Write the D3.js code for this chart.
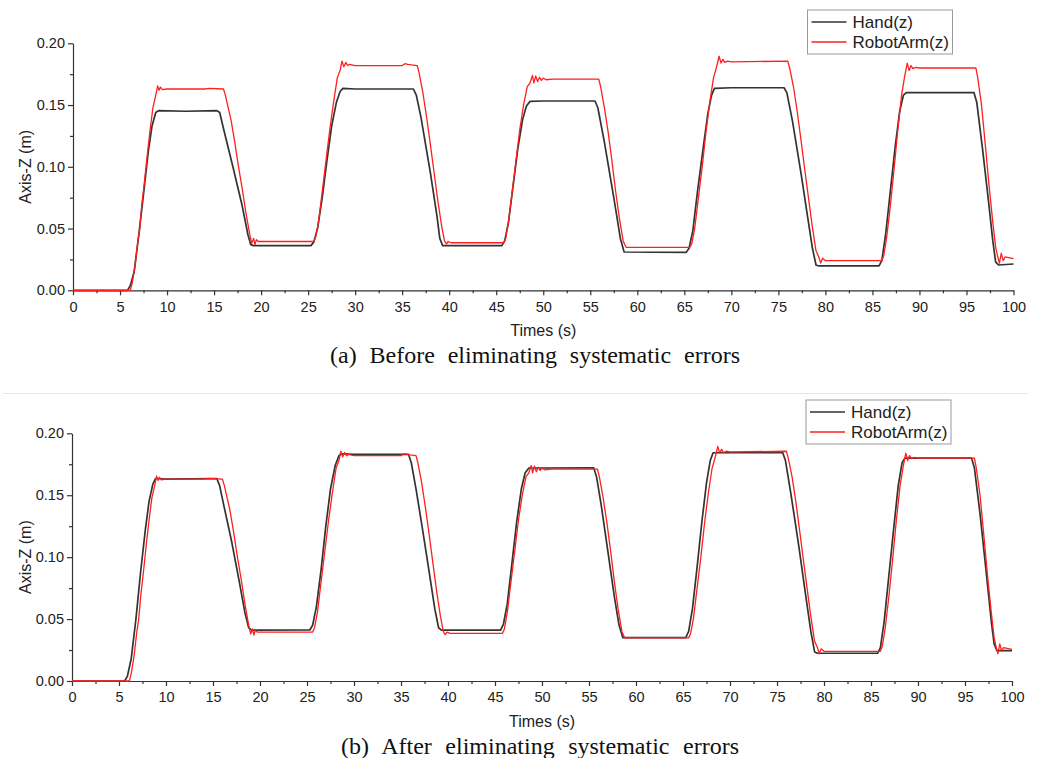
<!DOCTYPE html>
<html>
<head>
<meta charset="utf-8">
<script src="https://cdn.jsdelivr.net/npm/d3@7"></script>
<style>
  body { margin: 0; background: #fff; }
  svg { display: block; }
</style>
</head>
<body>
<div id="chart"></div>
<script>
// readings, [time (s), z (m)]
const handBefore = [
  [0,0],[5.8,0],[6.1,0.004],[6.5,0.015],[7.0,0.045],[7.5,0.078],[8.0,0.112],[8.4,0.133],[8.8,0.144],[9.1,0.1455],
  [12,0.145],[15.3,0.1455],[15.6,0.144],[16.0,0.131],[17.0,0.100],[18.0,0.068],[18.6,0.045],[18.9,0.037],[19.2,0.0362],
  [25.3,0.0362],[25.6,0.039],[26.0,0.050],[26.5,0.075],[27.0,0.105],[27.5,0.133],[28.0,0.152],[28.4,0.161],[28.7,0.1635],
  [30,0.163],[36.2,0.163],[36.5,0.158],[37.0,0.140],[38.0,0.095],[38.7,0.060],[39.0,0.042],[39.3,0.0362],
  [45.6,0.0362],[45.9,0.040],[46.3,0.055],[46.8,0.085],[47.3,0.115],[47.8,0.138],[48.2,0.149],[48.6,0.153],
  [50,0.1533],[55.5,0.1533],[55.8,0.148],[56.5,0.120],[57.5,0.075],[58.2,0.042],[58.6,0.031],
  [65.2,0.0307],[65.5,0.034],[65.9,0.048],[66.4,0.080],[67.0,0.115],[67.5,0.143],[67.9,0.158],[68.2,0.1635],
  [70,0.164],[75.6,0.164],[75.9,0.160],[76.5,0.137],[77.4,0.095],[78.0,0.065],[78.6,0.035],[79.0,0.0205],[79.3,0.0197],
  [85.7,0.0197],[86.0,0.024],[86.4,0.045],[86.9,0.080],[87.4,0.115],[87.9,0.145],[88.3,0.158],[88.6,0.160],
  [90,0.160],[95.8,0.160],[96.1,0.152],[96.7,0.115],[97.3,0.075],[97.8,0.040],[98.1,0.023],[98.4,0.0205],[100,0.0213]
];

const handAfter = [
  [0,0],[5.6,0],[5.9,0.004],[6.3,0.018],[6.8,0.050],[7.3,0.088],[7.8,0.122],[8.2,0.145],[8.6,0.159],[8.9,0.1635],
  [10,0.163],[15.4,0.1635],[15.7,0.158],[16.2,0.140],[17.0,0.112],[17.8,0.080],[18.4,0.055],[18.8,0.043],[19.1,0.041],
  [25.3,0.0412],[25.6,0.045],[26.0,0.060],[26.5,0.090],[27.0,0.125],[27.5,0.155],[28.0,0.174],[28.4,0.182],[28.7,0.1835],
  [30,0.183],[35.8,0.183],[36.1,0.176],[36.6,0.155],[37.3,0.122],[38.0,0.088],[38.6,0.058],[39.0,0.043],[39.3,0.041],
  [45.6,0.041],[45.9,0.046],[46.3,0.062],[46.8,0.095],[47.3,0.128],[47.8,0.155],[48.2,0.168],[48.6,0.172],
  [50,0.172],[55.5,0.1722],[55.8,0.165],[56.3,0.142],[57.0,0.105],[57.7,0.068],[58.2,0.045],[58.6,0.035],
  [65.3,0.035],[65.6,0.040],[66.0,0.058],[66.5,0.092],[67.0,0.128],[67.5,0.160],[67.9,0.178],[68.2,0.1843],
  [70,0.1843],[75.6,0.1845],[75.9,0.178],[76.5,0.150],[77.3,0.110],[78.0,0.072],[78.6,0.040],[79.0,0.0235],[79.3,0.0224],
  [85.7,0.0224],[86.0,0.027],[86.4,0.048],[86.9,0.085],[87.4,0.122],[87.9,0.158],[88.3,0.176],[88.6,0.180],
  [90,0.180],[95.7,0.180],[96.0,0.172],[96.6,0.135],[97.2,0.092],[97.8,0.048],[98.1,0.030],[98.4,0.0245],[100,0.0245]
];

// the robot arm record is the same in both panels
const robotArm = [
  [0,0],[6.1,0],[6.3,0.006],[6.6,0.020],[6.9,0.040],[7.1,0.050],[7.3,0.068],[7.6,0.088],[7.9,0.110],[8.2,0.130],
  [8.5,0.148],[8.8,0.158],[9.0,0.1655],[9.15,0.162],[9.3,0.1645],[9.5,0.1625],[10,0.163],[14,0.163],[14.5,0.1635],
  [16.0,0.163],[16.2,0.158],[16.5,0.148],[16.8,0.138],[17.2,0.120],[17.6,0.100],[18.0,0.082],[18.4,0.062],[18.8,0.045],
  [19.0,0.038],[19.2,0.042],[19.35,0.037],[19.5,0.041],[19.7,0.0395],[25.6,0.0395],[25.8,0.043],[26.1,0.055],
  [26.5,0.080],[26.9,0.105],[27.3,0.130],[27.7,0.152],[28.1,0.172],[28.4,0.178],[28.6,0.1855],[28.8,0.181],
  [29.0,0.1845],[29.2,0.182],[29.4,0.183],[30,0.182],[35,0.182],[35.3,0.1835],[35.6,0.183],[36.0,0.1825],[36.6,0.182],
  [36.8,0.176],[37.2,0.160],[37.6,0.140],[38.0,0.118],[38.4,0.095],[38.8,0.072],[39.2,0.052],[39.5,0.040],
  [39.7,0.0375],[39.9,0.0395],[40.2,0.0385],[45.8,0.0385],[46.0,0.042],[46.3,0.055],[46.7,0.080],[47.1,0.105],
  [47.5,0.130],[47.9,0.150],[48.3,0.165],[48.6,0.168],[48.85,0.174],[49.0,0.168],[49.2,0.1735],[49.4,0.169],
  [49.6,0.1725],[49.8,0.170],[50.0,0.1718],[50.3,0.1705],[51,0.171],[55.9,0.171],[56.1,0.165],[56.5,0.148],
  [56.9,0.128],[57.3,0.105],[57.7,0.080],[58.1,0.058],[58.5,0.040],[58.8,0.0348],[65.6,0.0348],[65.8,0.038],
  [66.1,0.050],[66.5,0.075],[66.9,0.100],[67.3,0.128],[67.7,0.152],[68.1,0.172],[68.4,0.180],[68.7,0.1895],
  [68.9,0.184],[69.1,0.187],[69.3,0.1845],[69.6,0.1855],[70,0.185],[76.0,0.1855],[76.2,0.180],[76.6,0.165],
  [77.0,0.145],[77.4,0.122],[77.8,0.098],[78.2,0.075],[78.6,0.052],[79.0,0.032],[79.3,0.027],[79.5,0.022],
  [79.7,0.026],[80.0,0.024],[86.0,0.024],[86.2,0.028],[86.5,0.042],[86.9,0.068],[87.3,0.098],[87.7,0.130],
  [88.1,0.158],[88.4,0.172],[88.7,0.184],[88.9,0.178],[89.1,0.182],[89.3,0.1795],[89.6,0.1805],[90,0.180],
  [96.0,0.180],[96.2,0.172],[96.6,0.150],[97.0,0.118],[97.4,0.085],[97.8,0.055],[98.1,0.035],[98.3,0.028],
  [98.5,0.022],[98.7,0.030],[98.9,0.024],[99.1,0.027],[100,0.0256]
];

const xTicks = [0,5,10,15,20,25,30,35,40,45,50,55,60,65,70,75,80,85,90,95,100];
const xMinorTicks = [2.5,7.5,12.5,17.5,22.5,27.5,32.5,37.5,42.5,47.5,52.5,57.5,62.5,67.5,72.5,77.5,82.5,87.5,92.5,97.5];
const yTicks = [0.00,0.05,0.10,0.15,0.20];
const yMinorTicks = [0.025,0.075,0.125,0.175];
const legendLabels = ["Hand(z)", "RobotArm(z)"];
const captions = ["(a) Before eliminating systematic errors", "(b) After eliminating systematic errors"];

const W = 1038, H = 758;
const svg = d3.select("#chart").append("svg")
  .attr("width", W)
  .attr("height", H);

// faint rule between the two figures
svg.append("line")
  .attr("x1", 3).attr("x2", 1028)
  .attr("y1", 393.5).attr("y2", 393.5)
  .style("stroke", "#e6e6e6")
  .style("stroke-width", 1.2);

const drawPanel = (p) => {
  const x = d3.scaleLinear().domain([0, 100]).range([p.left, p.right]);
  const y = d3.scaleLinear().domain([0, 0.2]).range([p.bottom, p.top]);
  const g = svg.append("g");

  // minor ticks
  g.append("g")
    .attr("transform", `translate(0,${p.bottom})`)
    .call(d3.axisBottom(x).tickValues(xMinorTicks).tickSize(3).tickFormat(""))
    .call(a => a.select(".domain").remove());
  g.append("g")
    .attr("transform", `translate(${p.left},0)`)
    .call(d3.axisLeft(y).tickValues(yMinorTicks).tickSize(3).tickFormat(""))
    .call(a => a.select(".domain").remove());

  const xAxis = g.append("g")
    .attr("transform", `translate(0,${p.bottom})`)
    .call(d3.axisBottom(x).tickValues(xTicks).tickSize(5).tickSizeOuter(0).tickPadding(6).tickFormat(d3.format("d")));
  const yAxis = g.append("g")
    .attr("transform", `translate(${p.left},0)`)
    .call(d3.axisLeft(y).tickValues(yTicks).tickSize(5).tickSizeOuter(0).tickPadding(3).tickFormat(d3.format(".2f")));

  g.selectAll(".domain, .tick line").style("stroke", "#333").style("stroke-width", 1.2);
  [xAxis, yAxis].forEach(a => a.selectAll("text")
    .style("font-family", "'Liberation Sans', Arial, sans-serif")
    .style("font-size", "14.5px")
    .style("fill", "#222"));

  g.append("text")
    .attr("transform", `translate(31,${(p.top + p.bottom) / 2}) rotate(-90)`)
    .attr("text-anchor", "middle")
    .style("font-family", "'Liberation Sans', Arial, sans-serif")
    .style("font-size", "16px")
    .style("fill", "#222")
    .text("Axis-Z (m)");

  g.append("text")
    .attr("x", (p.left + p.right) / 2)
    .attr("y", p.bottom + 46)
    .attr("text-anchor", "middle")
    .style("font-family", "'Liberation Sans', Arial, sans-serif")
    .style("font-size", "16px")
    .style("fill", "#222")
    .text("Times (s)");

  const line = d3.line().x(d => x(d[0])).y(d => y(d[1]));

  g.append("path")
    .datum(p.hand)
    .attr("d", line)
    .style("fill", "none")
    .style("stroke", "#333")
    .style("stroke-width", 1.7)
    .style("stroke-linejoin", "round");

  g.append("path")
    .datum(p.robot)
    .attr("d", line)
    .style("fill", "none")
    .style("stroke", "#ff1f1f")
    .style("stroke-width", 1.3)
    .style("stroke-linejoin", "round");

  // legend
  const lg = g.append("g").attr("transform", `translate(${p.legendX},${p.legendY})`);
  lg.append("rect")
    .attr("width", 145).attr("height", 44)
    .style("fill", "#fff")
    .style("stroke", "#999")
    .style("stroke-width", 1);
  const colors = ["#333", "#ff1f1f"];
  const widths = [1.7, 1.3];
  legendLabels.forEach((lab, i) => {
    lg.append("line")
      .attr("x1", 4).attr("x2", 39)
      .attr("y1", 12 + i * 20).attr("y2", 12 + i * 20)
      .style("stroke", colors[i])
      .style("stroke-width", widths[i]);
    lg.append("text")
      .attr("x", 45).attr("y", 18 + i * 20)
      .style("font-family", "'Liberation Sans', Arial, sans-serif")
      .style("font-size", "17px")
      .style("fill", "#222")
      .text(lab);
  });

  // caption, stretched by word spacing to the printed width
  const cap = svg.append("text")
    .attr("x", p.capX0)
    .attr("y", p.bottom + 73)
    .style("font-family", "'Liberation Serif', 'Times New Roman', serif")
    .style("font-size", "24px")
    .style("fill", "#111")
    .text(p.caption);
  const len = cap.node().getComputedTextLength();
  const spaces = p.caption.split(" ").length - 1;
  cap.attr("word-spacing", (p.capX1 - p.capX0 - len) / spaces);
};

drawPanel({
  left: 73, right: 1013.5, top: 43.3, bottom: 290.3,
  hand: handBefore, robot: robotArm,
  legendX: 807.5, legendY: 10,
  caption: captions[0], capX0: 330, capX1: 740
});

drawPanel({
  left: 72, right: 1012, top: 433.3, bottom: 681,
  hand: handAfter, robot: robotArm,
  legendX: 806, legendY: 400,
  caption: captions[1], capX0: 341, capX1: 739
});
</script>
</body>
</html>
